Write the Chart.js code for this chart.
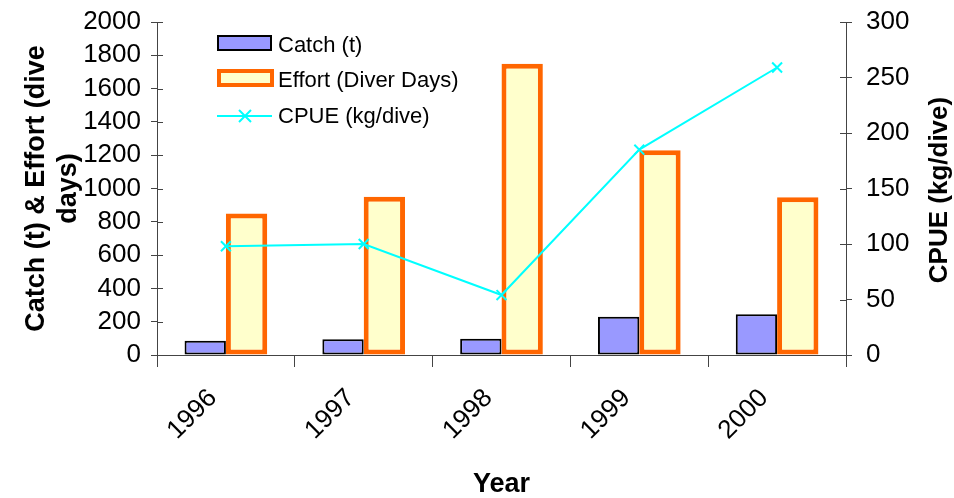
<!DOCTYPE html>
<html>
<head>
<meta charset="utf-8">
<script src="https://cdn.jsdelivr.net/npm/chart.js@4.4.1/dist/chart.umd.min.js"></script>
<style>
  html, body { margin: 0; padding: 0; background: #fff; }
</style>
</head>
<body>
<canvas id="abChart" width="954" height="498"></canvas>
<script>
// --- data ---
const years = ['1996', '1997', '1998', '1999', '2000'];
const catchT = [85, 95, 97, 230, 245];
const effortDays = [850, 950, 1750, 1230, 948];
const cpue = [98, 100, 54, 185, 259];

const FONT = '"Liberation Sans", Arial, sans-serif';
const AXIS = '#444';

// Excel-style ticks that cross the y axes
const crossTicks = {
    id: 'crossTicks',
    afterDraw(chart) {
        const ctx = chart.ctx;
        ctx.save();
        ctx.strokeStyle = AXIS;
        ctx.lineWidth = 1;
        ['y', 'y1'].forEach(id => {
            const s = chart.scales[id];
            const x = id === 'y' ? s.right : s.left;
            const dir = id === 'y' ? 1 : -1;
            s.ticks.forEach(t => {
                const py = Math.round(s.getPixelForValue(t.value)) + 0.5;
                ctx.beginPath();
                ctx.moveTo(x, py);
                ctx.lineTo(x + dir * 6, py);
                ctx.stroke();
            });
        });
        ctx.restore();
    }
};

// legend inside the plot + right axis title reading bottom-to-top
const extras = {
    id: 'extras',
    afterDraw(chart) {
        const ctx = chart.ctx;
        const ds = chart.data.datasets;
        ctx.save();
        ctx.font = '22px ' + FONT;
        ctx.textBaseline = 'middle';

        // catch swatch
        ctx.fillStyle = '#9999ff';
        ctx.fillRect(218, 36, 53, 14);
        ctx.lineWidth = 2;
        ctx.strokeStyle = '#000';
        ctx.strokeRect(218, 36, 53, 14);
        ctx.fillStyle = '#000';
        ctx.fillText(ds[1].label, 278, 46);

        // effort swatch
        ctx.fillStyle = '#ffffcc';
        ctx.fillRect(219, 71, 53, 14);
        ctx.lineWidth = 4;
        ctx.strokeStyle = '#ff6600';
        ctx.strokeRect(219, 71, 53, 14);
        ctx.fillStyle = '#000';
        ctx.fillText(ds[2].label, 278, 81);

        // cpue line
        ctx.strokeStyle = '#00ffff';
        ctx.lineWidth = 2;
        ctx.beginPath();
        ctx.moveTo(217, 116); ctx.lineTo(272, 116);
        ctx.moveTo(239, 110); ctx.lineTo(251, 122);
        ctx.moveTo(251, 110); ctx.lineTo(239, 122);
        ctx.stroke();
        ctx.fillStyle = '#000';
        ctx.fillText(ds[0].label, 278, 117);

        // right title
        ctx.font = 'bold 26px ' + FONT;
        ctx.textAlign = 'center';
        ctx.translate(940, 190);
        ctx.rotate(-Math.PI / 2);
        ctx.fillText('CPUE (kg/dive)', 0, 0);
        ctx.restore();
    }
};

const ctx = document.getElementById('abChart').getContext('2d');

new Chart(ctx, {
    type: 'bar',
    data: {
        labels: years,
        datasets: [
            {
                type: 'line',
                label: 'CPUE (kg/dive)',
                data: cpue,
                yAxisID: 'y1',
                borderColor: '#00ffff',
                borderWidth: 2,
                tension: 0,
                pointStyle: 'crossRot',
                pointRadius: 7,
                pointBorderColor: '#00ffff',
                pointBorderWidth: 2,
                order: 0
            },
            {
                label: 'Catch (t)',
                data: catchT,
                yAxisID: 'y',
                backgroundColor: '#9999ff',
                borderColor: '#000',
                borderWidth: 2,
                borderSkipped: false,
                barPercentage: 1,
                categoryPercentage: 0.6,
                order: 1
            },
            {
                label: 'Effort (Diver Days)',
                data: effortDays,
                yAxisID: 'y',
                backgroundColor: '#ffffcc',
                borderColor: '#ff6600',
                borderWidth: 5,
                borderSkipped: false,
                barPercentage: 1,
                categoryPercentage: 0.6,
                order: 1
            }
        ]
    },
    options: {
        responsive: false,
        animation: false,
        layout: { padding: { top: 22 } },
        plugins: {
            legend: { display: false },
            tooltip: { enabled: false }
        },
        scales: {
            x: {
                offset: true,
                grid: { offset: true, drawOnChartArea: false, tickLength: 12, color: AXIS },
                border: { color: AXIS },
                ticks: { color: '#000', font: { family: FONT, size: 26 }, minRotation: 45, maxRotation: 45, padding: 16, labelOffset: -13 },
                title: { display: true, text: 'Year', color: '#000', font: { family: FONT, size: 27, weight: 'bold' }, padding: { top: 0, bottom: -3 } },
                afterFit(s) { s.height = 143; s.paddingLeft = 0; s.paddingRight = 0; }
            },
            y: {
                position: 'left',
                min: 0, max: 2000,
                ticks: { stepSize: 200, autoSkip: false, callback: v => String(v), color: '#000', font: { family: FONT, size: 26 }, padding: 10 },
                grid: { drawOnChartArea: false, tickLength: 6, color: AXIS },
                border: { color: AXIS },
                title: {
                    display: true,
                    text: ['Catch (t) & Effort (dive', 'days)'],
                    color: '#000',
                    font: { family: FONT, size: 27, weight: 'bold' },
                    padding: { top: 20, bottom: 0 }
                },
                afterFit(s) { s.width = 157; s.paddingTop = 0; s.paddingBottom = 0; }
            },
            y1: {
                position: 'right',
                min: 0, max: 300,
                ticks: { stepSize: 50, autoSkip: false, color: '#000', font: { family: FONT, size: 26 }, padding: 14 },
                grid: { drawOnChartArea: false, tickLength: 6, color: AXIS },
                border: { color: AXIS },
                afterFit(s) { s.width = 108; s.paddingTop = 0; s.paddingBottom = 0; }
            }
        }
    },
    plugins: [crossTicks, extras]
});
</script>
</body>
</html>
